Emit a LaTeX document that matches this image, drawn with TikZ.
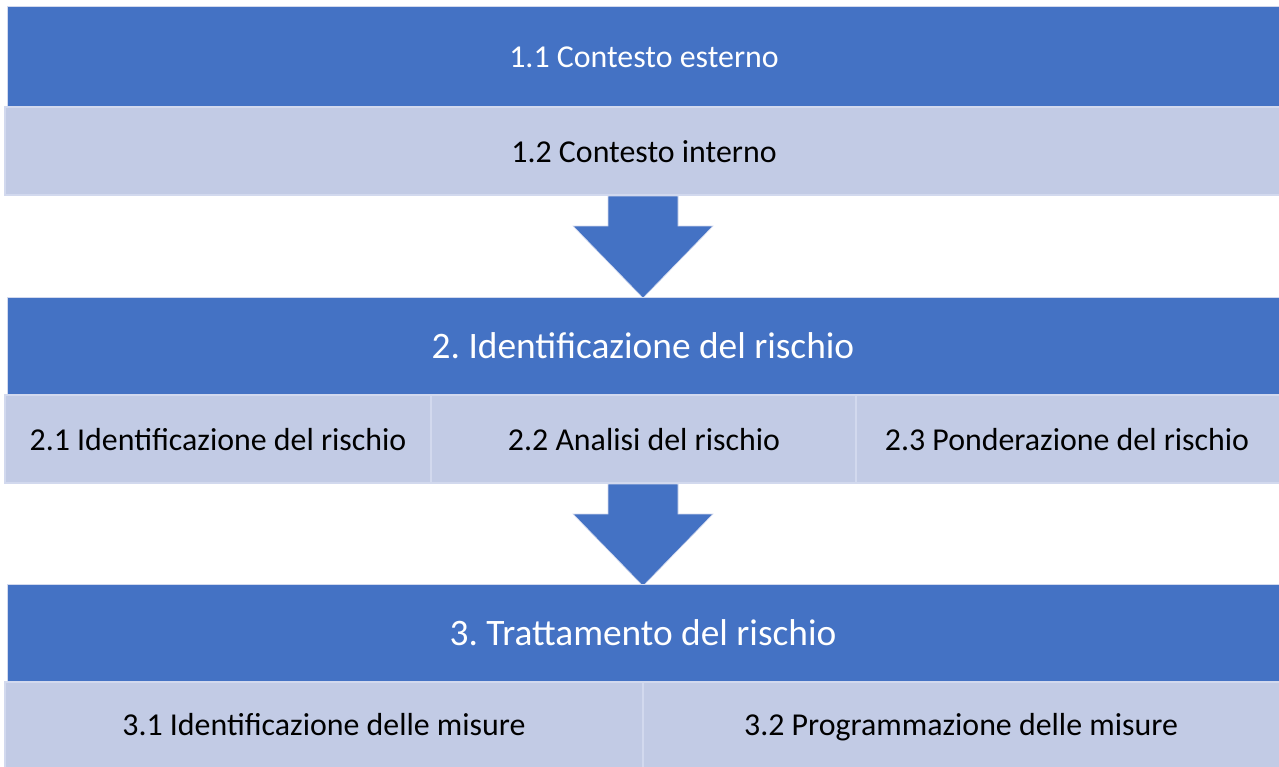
\documentclass[tikz,border=0pt]{standalone}
\usepackage{fontspec}
\setmainfont{Carlito}
\frenchspacing
\definecolor{dark}{HTML}{4472C4}
\definecolor{light}{HTML}{C2CBE5}
\definecolor{edge}{HTML}{D2D9EE}
\begin{document}
\begin{tikzpicture}[x=1bp,y=-1bp,
  darkbox/.style={fill=dark,draw=edge,line width=1bp},
  lightbox/.style={fill=light,draw=edge,line width=1.2bp},
  headtxt/.style={anchor=base,inner sep=0pt,text=white,font=\fontsize{32}{36}\selectfont},
  bigtxt/.style={anchor=base,inner sep=0pt,text=white,font=\fontsize{37.5}{42}\selectfont},
  subtxt/.style={anchor=base,inner sep=0pt,text=black,font=\fontsize{32}{36}\selectfont},
  blockarrow/.style={fill=dark,draw=edge,line width=0.6bp}]
\useasboundingbox (0,0) rectangle (1279,767);
\fill[white] (0,0) rectangle (1279,767);
% band 1
\draw[darkbox] (7,7) rectangle (1280,107);
\draw[lightbox] (5,107) rectangle (1280,195);
\node[headtxt] (c11) at (644,68) {1.1 Contesto esterno};
\node[subtxt] (c12) at (644,162) {1.2 Contesto interno};
% arrow 1
\draw[blockarrow] (608,196) -- (678,196) -- (678,226) -- (713,226) -- (643,298) -- (573,226) -- (608,226) -- cycle;
% band 2
\draw[darkbox] (7,297) rectangle (1280,395);
\draw[lightbox] (5,395) rectangle (431,483);
\draw[lightbox] (431,395) rectangle (856,483);
\draw[lightbox] (856,395) rectangle (1280,483);
\node[bigtxt] (c2) at (643,358) {2. Identificazione del rischio};
\node[subtxt] (c21) at (218,450) {2.1 Identificazione del rischio};
\node[subtxt] (c22) at (644,450) {2.2 Analisi del rischio};
\node[subtxt] (c23) at (1067,450) {2.3 Ponderazione del rischio};
% arrow 2
\draw[blockarrow] (608,484) -- (678,484) -- (678,514) -- (713,514) -- (643,586) -- (573,514) -- (608,514) -- cycle;
% band 3
\draw[darkbox] (7,584) rectangle (1280,682);
\draw[lightbox] (5,682) rectangle (643,768);
\draw[lightbox] (643,682) rectangle (1280,768);
\node[bigtxt] (c3) at (643,645) {3. Trattamento del rischio};
\node[subtxt] (c31) at (324,735) {3.1 Identificazione delle misure};
\node[subtxt] (c32) at (961,735) {3.2 Programmazione delle misure};
\end{tikzpicture}
\end{document}
